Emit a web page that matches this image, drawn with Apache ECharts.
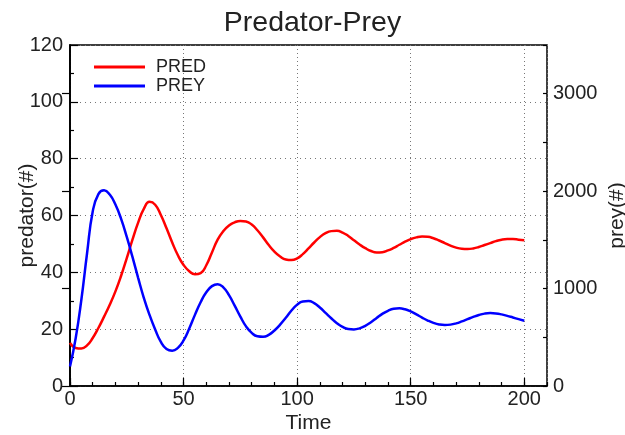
<!DOCTYPE html>
<html>
<head>
<meta charset="utf-8">
<script src="https://cdn.jsdelivr.net/npm/echarts@6/dist/echarts.min.js"></script>
<style>html,body{margin:0;padding:0;background:#fff}#c{width:625px;height:435px}</style>
</head>
<body>
<div id="c"></div>
<script>
var titleText = 'Predator-Prey';
var seriesNames = ['PRED', 'PREY'];
var xName = 'Time';
var yLeftName = 'predator(#)';
var yRightName = 'prey(#)';

var times = [0,2.5,5,7.5,10,12.5,15,17.5,20,22.5,25,27.5,30,32.5,35,37.5,40,42.5,45,47.5,50,52.5,55,57.5,60,62.5,65,67.5,70,72.5,75,77.5,80,82.5,85,87.5,90,92.5,95,97.5,100,102.5,105,107.5,110,112.5,115,117.5,120,122.5,125,127.5,130,132.5,135,137.5,140,142.5,145,147.5,150,152.5,155,157.5,160,162.5,165,167.5,170,172.5,175,177.5,180,182.5,185,187.5,190,192.5,195,197.5,200];

var predators = [15.2,13.4,13.2,14.3,16.9,20.4,24.4,28.6,33.3,38.8,45.0,51.5,57.5,62.3,64.8,63.8,60.2,55.5,50.5,46.0,42.6,40.4,39.3,39.7,42.5,47.0,51.5,54.5,56.5,57.6,58.1,57.9,56.8,54.8,52.3,49.6,47.3,45.6,44.5,44.3,44.9,46.4,48.4,50.5,52.4,53.8,54.5,54.6,54.0,52.8,51.3,49.8,48.5,47.5,47.0,47.1,47.7,48.6,49.7,50.8,51.7,52.3,52.6,52.5,52.0,51.2,50.3,49.4,48.7,48.3,48.2,48.4,48.9,49.6,50.3,51.0,51.5,51.7,51.7,51.5,51.3];

var prey = [200,490,885,1360,1790,1970,2008,1965,1862,1715,1530,1325,1110,905,730,580,452,380,362,392,468,590,730,860,962,1025,1045,1012,932,825,712,612,545,510,505,525,570,630,700,775,835,868,872,850,805,750,695,645,607,585,581,592,618,655,698,740,772,792,797,787,765,735,702,672,648,632,626,630,643,663,686,709,729,743,748,745,735,720,703,686,669];

var predData = times.map(function (t, i) { return [t, predators[i]]; });
var preyData = times.map(function (t, i) { return [t, prey[i]]; });

var FONT = 'Liberation Sans';
var TXT = '#222';
var chart = echarts.init(document.getElementById('c'), null, {renderer: 'canvas'});
var dotted = {color: '#777', width: 1, type: [1, 4]};
chart.setOption({
  animation: false,
  backgroundColor: '#fff',
  textStyle: {fontFamily: FONT},
  title: {
    text: titleText, left: 'center', top: 4,
    textStyle: {fontFamily: FONT, fontSize: 28.5, fontWeight: 'normal', color: TXT}
  },
  legend: {
    orient: 'vertical', left: 89, top: 53,
    itemWidth: 51, itemHeight: 3, itemGap: 1,
    icon: 'rect',
    data: seriesNames,
    textStyle: {fontFamily: FONT, fontSize: 18, color: TXT, padding: [0, 0, 0, 6]}
  },
  grid: {
    left: 70, right: 78, top: 45, bottom: 49,
    show: true, borderColor: '#000', borderWidth: 1.5,
    containLabel: false, outerBoundsMode: 'none'
  },
  xAxis: [{
    type: 'value', min: 0, max: 210, interval: 50,
    name: xName, nameLocation: 'middle', nameGap: 27, nameMoveOverlap: false,
    nameTextStyle: {fontFamily: FONT, fontSize: 21, color: TXT},
    axisLine: {show: true, lineStyle: {color: '#000', width: 1.5}},
    axisTick: {show: true, inside: true, length: 8, lineStyle: {color: '#000', width: 1.2}},
    axisLabel: {fontFamily: FONT, fontSize: 20, color: TXT, margin: 3, showMaxLabel: false,
      formatter: function (v) { return v % 50 === 0 ? String(v) : ''; }},
    splitLine: {show: true, lineStyle: {color: '#777', width: 1, type: [1, 3]}}
  }, {
    type: 'value', min: 0, max: 210, interval: 10, position: 'bottom',
    axisLine: {show: false},
    axisTick: {show: true, inside: true, length: 4, lineStyle: {color: '#000', width: 1.2}},
    axisLabel: {show: false},
    splitLine: {show: false}
  }],
  yAxis: [{
    type: 'value', min: 0, max: 120, interval: 20, position: 'left',
    name: yLeftName, nameLocation: 'middle', nameGap: 32, nameRotate: 90, nameMoveOverlap: false,
    nameTextStyle: {fontFamily: FONT, fontSize: 21, color: TXT},
    axisLine: {show: true, lineStyle: {color: '#000', width: 1.5}},
    axisTick: {show: true, inside: true, length: 8, lineStyle: {color: '#000', width: 1.2}},
    minorTick: {show: true, splitNumber: 2, length: 4, lineStyle: {color: '#000', width: 1.2}},
    axisLabel: {fontFamily: FONT, fontSize: 20, color: TXT, margin: 7},
    splitLine: {show: true, lineStyle: dotted}
  }, {
    type: 'value', min: 0, max: 3500, interval: 1000, position: 'right',
    name: yRightName, nameLocation: 'middle', nameGap: 60, nameRotate: 90, nameMoveOverlap: false,
    nameTextStyle: {fontFamily: FONT, fontSize: 21, color: TXT},
    axisLine: {show: true, lineStyle: {color: '#000', width: 1.5}},
    axisTick: {show: true, inside: true, length: 8, lineStyle: {color: '#000', width: 1.2}},
    axisLabel: {fontFamily: FONT, fontSize: 20, color: TXT, margin: 6, showMaxLabel: false,
      formatter: function (v) { return v % 1000 === 0 ? String(v) : ''; }},
    splitLine: {show: false}
  }, {
    type: 'value', min: 0, max: 3500, interval: 500, position: 'right',
    axisLine: {show: false},
    axisTick: {show: true, inside: true, length: 4, lineStyle: {color: '#000', width: 1.2}},
    axisLabel: {show: false},
    splitLine: {show: false}
  }],
  series: [{
    name: seriesNames[0], type: 'line', xAxisIndex: 0, yAxisIndex: 0,
    data: predData, smooth: 0.5, symbol: 'none',
    lineStyle: {color: '#ff0000', width: 2.5}, itemStyle: {color: '#ff0000'}
  }, {
    name: seriesNames[1], type: 'line', xAxisIndex: 0, yAxisIndex: 1,
    data: preyData, smooth: 0.5, symbol: 'none',
    lineStyle: {color: '#0000ff', width: 2.5}, itemStyle: {color: '#0000ff'}
  }]
});
</script>
</body>
</html>
